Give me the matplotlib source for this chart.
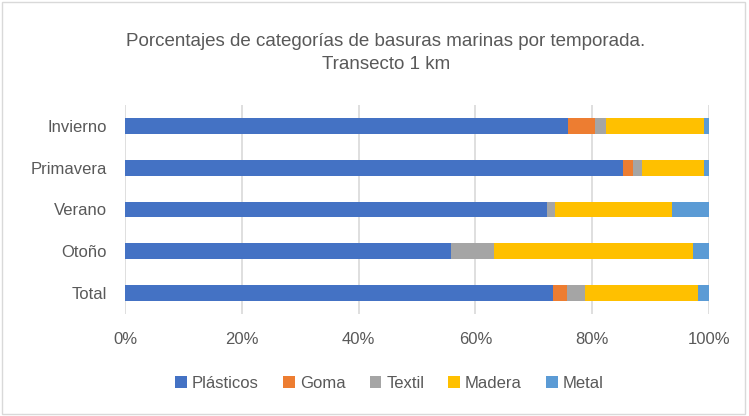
import matplotlib
matplotlib.use("Agg")
import matplotlib.pyplot as plt
from matplotlib.patches import Rectangle
from matplotlib.ticker import FuncFormatter

categories = ["Invierno", "Primavera", "Verano", "Otoño", "Total"]
plasticos = [75.9, 85.3, 72.3, 55.9, 73.3]
goma = [4.5, 1.6, 0.0, 0.0, 2.3]
textil = [2.0, 1.6, 1.4, 7.2, 3.1]
madera = [16.8, 10.7, 19.9, 34.2, 19.5]
metal = [0.8, 0.8, 6.4, 2.7, 1.8]

series = [("Plásticos", plasticos, "#4472C4"),
          ("Goma", goma, "#ED7D31"),
          ("Textil", textil, "#A5A5A5"),
          ("Madera", madera, "#FFC000"),
          ("Metal", metal, "#5B9BD5")]

plt.rcParams['font.family'] = ['Liberation Sans', 'DejaVu Sans']
txt = "#595959"

fig = plt.figure(figsize=(7.49, 4.16), dpi=100)
ax = fig.add_axes([0.1669, 0.245, 0.7797, 0.503])

ypos = list(range(len(categories)))
left = [0.0] * len(categories)
for name, vals, col in series:
    ax.barh(ypos, vals, left=left, height=0.38, color=col, label=name, zorder=3)
    left = [l + v for l, v in zip(left, vals)]

ax.set_xlim(0, 100)
ax.set_ylim(len(categories) - 0.5, -0.5)
ax.set_yticks(ypos)
ax.set_yticklabels(categories)
ax.set_xticks([0, 20, 40, 60, 80, 100])
ax.xaxis.set_major_formatter(FuncFormatter(lambda v, p: f"{int(v)}%"))
ax.grid(axis='x', color="#D9D9D9", linewidth=1.2, zorder=0)
for s in ax.spines.values():
    s.set_visible(False)
ax.tick_params(axis='both', length=0, labelsize=12, colors=txt)
ax.tick_params(axis='y', pad=13)
ax.tick_params(axis='x', pad=13)

fig.text(0.515, 0.873, "Porcentajes de categorías de basuras marinas por temporada.\nTransecto 1 km",
         ha='center', va='center', fontsize=13.5, color=txt, linespacing=1.45)

leg = fig.legend(loc='center', bbox_to_anchor=(0.52, 0.078), ncol=5, frameon=False,
                 fontsize=12, handlelength=0.7, handleheight=0.7, handletextpad=0.3,
                 columnspacing=1.45)
for t in leg.get_texts():
    t.set_color(txt)

fig.patches.append(Rectangle((0.003, 0.005), 0.992, 0.99, transform=fig.transFigure,
                             fill=False, edgecolor="#D9D9D9", linewidth=1))

fig.savefig("out.png", dpi=100)
